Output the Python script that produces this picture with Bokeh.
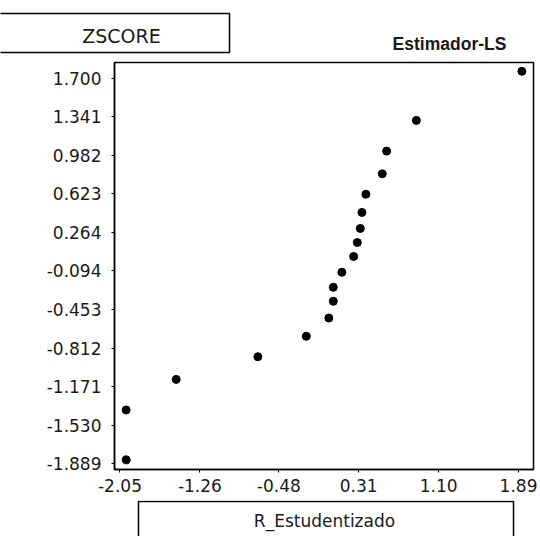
from bokeh.plotting import figure
from bokeh.layouts import column
from bokeh.models import Range1d, FixedTicker, PrintfTickFormatter
from bokeh.core.properties import value
from bokeh.embed import file_html
from bokeh.resources import INLINE

# ---- data ----
r_estudentizado = [1.923, 0.880, 0.586, 0.543, 0.381, 0.342, 0.326, 0.296, 0.260,
                   0.144, 0.059, 0.059, 0.015, -0.208, -0.687, -1.494, -1.989, -1.988]
zscore = [1.765, 1.308, 1.022, 0.811, 0.621, 0.451, 0.302, 0.171, 0.041,
          -0.106, -0.246, -0.376, -0.532, -0.702, -0.892, -1.103, -1.388, -1.852]
x_ticks = [-2.05, -1.26, -0.48, 0.31, 1.10, 1.89]
y_ticks = [1.700, 1.341, 0.982, 0.623, 0.264, -0.094, -0.453, -0.812, -1.171, -1.530, -1.889]
x_title = "R_Estudentizado"
y_title = "ZSCORE"
plot_title = "Estimador-LS"

FONT = "DejaVu Sans"
TXT = "#1a1a1a"
W = 540


def no_align(f):
    if "frame_align" in f.properties():
        f.frame_align = False
    return f


def strip(h, y0):
    """A full-width helper figure whose frame is the whole canvas, pixel coords."""
    f = figure(frame_width=W, frame_height=h, min_border=0,
               x_range=Range1d(0, W), y_range=Range1d(y0 + h, y0),
               x_axis_location=None, y_axis_location=None,
               output_backend="svg", toolbar_location=None)
    f.grid.visible = False
    f.outline_line_color = None
    return no_align(f)


# ---- header strip (page y 0..60) ----
top = strip(60, 0)
top.quad(left=[-6], right=[229], top=[13], bottom=[52], fill_alpha=0,
         line_color="black", line_width=1.5)
top.text(x=[121], y=[35], text=[y_title], text_align="center", text_baseline="alphabetic",
         text_font=value(FONT), text_font_size="19px", text_color=TXT)
top.text(x=[449], y=[43], text=[plot_title], text_align="center", text_baseline="alphabetic",
         text_font=value("Liberation Sans"), text_font_style="bold",
         text_font_size="17.5px", text_color=TXT)

# ---- main plot (page y 60..500) ----
p = figure(frame_width=419, frame_height=407,
           min_border_left=114, min_border_right=7, min_border_top=2, min_border_bottom=31,
           x_range=Range1d(-2.104, 2.038), y_range=Range1d(-1.942, 1.847),
           output_backend="svg", toolbar_location=None)
no_align(p)
p.grid.visible = False
p.outline_line_color = "black"
p.outline_line_width = 1.5
p.outline_line_alpha = 1.0

p.xaxis.ticker = FixedTicker(ticks=x_ticks)
p.yaxis.ticker = FixedTicker(ticks=y_ticks)
p.xaxis.formatter = PrintfTickFormatter(format="%.2f")
p.yaxis.formatter = PrintfTickFormatter(format="%.3f")
for ax in (p.xaxis, p.yaxis):
    ax.axis_line_color = "black"
    ax.axis_line_width = 1.5
    ax.major_tick_in = 0
    ax.major_tick_out = 3
    ax.major_tick_line_color = "black"
    ax.minor_tick_line_color = None
    ax.major_label_text_font = FONT
    ax.major_label_text_font_size = "17px"
    ax.major_label_text_color = TXT
p.yaxis.major_label_standoff = 10
p.xaxis.major_label_standoff = 6

p.scatter(r_estudentizado, zscore, size=8, color="black")

# ---- footer strip (page y 500..536) ----
bot = strip(36, 500)
bot.quad(left=[138], right=[513], top=[501], bottom=[546], fill_alpha=0,
         line_color="black", line_width=1.5)
bot.text(x=[324], y=[520], text=[x_title], text_align="center", text_baseline="alphabetic",
         text_font=value(FONT), text_font_size="17px", text_color=TXT)

layout = column(top, p, bot, spacing=0)
open("out.html", "w").write(file_html(layout, INLINE))
